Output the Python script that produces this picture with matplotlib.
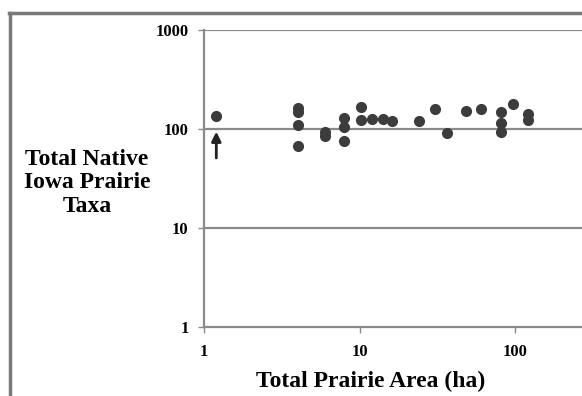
import numpy as np
import matplotlib.pyplot as plt
from matplotlib.lines import Line2D

# prairie area (ha) and native taxa counts
area = [1.2, 4, 4, 4, 4, 6, 6, 8, 8, 8, 10.2, 10.2, 12, 14.2, 16.3, 24.2, 30.6, 36.4,
        48.4, 60.4, 81, 81, 81, 97, 121, 121]
taxa = [135, 162, 147, 110, 68, 94, 85, 128, 104, 75, 168, 123, 127, 127, 120, 120, 158, 92,
        152, 159, 147, 116, 93, 179, 141, 123]
arrow_x = 1.2
arrow_from = 51
arrow_to = 94

y_ticks = [1, 10, 100, 1000]
x_ticks = [1, 10, 100]

plt.rcParams['font.family'] = ['Liberation Serif', 'DejaVu Serif']
plt.rcParams['font.weight'] = 'bold'

fig = plt.figure(figsize=(5.82, 3.96), dpi=100)
ax = fig.add_axes([204 / 582, 1 - 327 / 396, 466.5 / 582, 297 / 396])

grey = '#8a8a8a'
ax.set_xscale('log')
ax.set_yscale('log')
ax.set_xlim(1, 1000)
ax.set_ylim(1, 1000)

for v in y_ticks[1:]:
    ax.axhline(v, color=grey, lw=1.6, zorder=1)

ax.plot(area, taxa, 'o', color='#3c3c3c', markersize=7, zorder=3)
ax.annotate('', xy=(arrow_x, arrow_to), xytext=(arrow_x, arrow_from),
            arrowprops=dict(arrowstyle='-|>', color='#222222', lw=2, mutation_scale=14,
                            shrinkA=0, shrinkB=0))

for s in ['top', 'right']:
    ax.spines[s].set_visible(False)
for s in ['left', 'bottom']:
    ax.spines[s].set_color(grey)
    ax.spines[s].set_linewidth(1.6)

ax.set_yticks(y_ticks)
ax.set_yticklabels([str(v) for v in y_ticks])
ax.set_xticks(x_ticks)
ax.set_xticklabels([str(v) for v in x_ticks])
ax.minorticks_off()
ax.tick_params(axis='both', colors=grey, length=4, width=1, labelsize=12, labelcolor='black')
ax.tick_params(axis='y', pad=7)
ax.tick_params(axis='x', pad=8)

fig.text(87 / 582, 1 - 183 / 396, 'Total Native\nIowa Prairie\nTaxa', ha='center', va='center',
         fontsize=17, fontweight='bold', linespacing=1.15)
fig.text(371 / 582, 1 - 381 / 396, 'Total Prairie Area (ha)', ha='center', va='center',
         fontsize=17, fontweight='bold')

# outer frame
fig.add_artist(Line2D([10 / 582, 10 / 582], [0, 1 - 13 / 396], color='#7a7a7a', lw=2.5,
                      transform=fig.transFigure))
fig.add_artist(Line2D([9 / 582, 1], [1 - 13 / 396, 1 - 13 / 396], color='#7a7a7a', lw=2.5,
                      transform=fig.transFigure))

fig.savefig('out.png', dpi=100)
